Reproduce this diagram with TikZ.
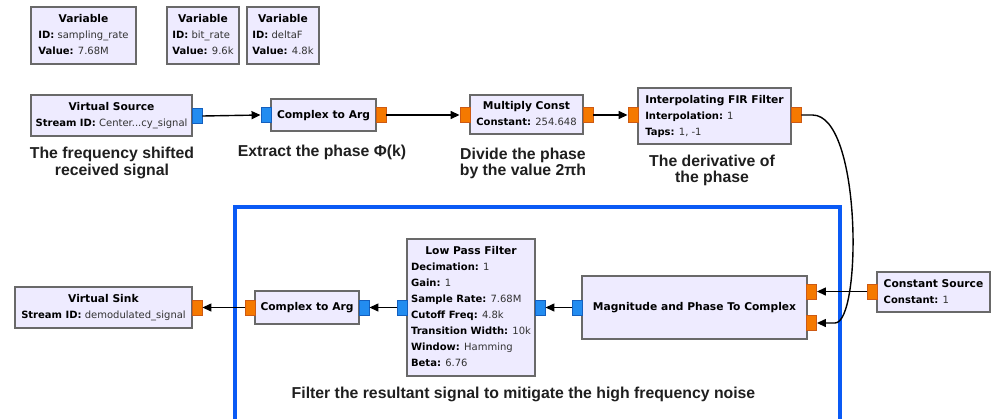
\documentclass[tikz,border=0pt]{standalone}
\usepackage{fontspec}
\setmainfont{DejaVu Sans}
\newfontfamily\notefont{Liberation Sans}
\usetikzlibrary{arrows.meta}

\definecolor{blkfill}{RGB}{238,235,255}
\definecolor{blkline}{RGB}{105,105,105}
\definecolor{portorange}{RGB}{245,121,0}
\definecolor{portorangeline}{RGB}{205,90,20}
\definecolor{portblue}{RGB}{34,140,240}
\definecolor{portblueline}{RGB}{20,95,190}
\definecolor{frameblue}{RGB}{10,90,245}
\definecolor{valgray}{RGB}{50,50,50}

% block title (centred, a touch larger) and parameter line (bold key, plain value)
\newcommand{\ttlsize}{\fontsize{10.7}{16}\selectfont}
\newcommand{\blkttl}[1]{\multicolumn{1}{@{}c@{}}{\ttlsize\textbf{#1}}}
\newcommand{\prm}[2]{\textbf{#1:} {\color{valgray}#2}}
\newenvironment{blktext}{\begin{tabular}{@{}l@{}}}{\end{tabular}}

\begin{document}
\begin{tikzpicture}[x=1pt,y=-1pt,
  blk/.style={draw=blkline, fill=blkfill, line width=1.3pt, inner sep=0pt,
              font=\fontsize{10}{16}\selectfont},
  port/.style={minimum width=10pt, minimum height=15pt, inner sep=0pt, line width=0.9pt},
  oport/.style={port, draw=portorangeline, fill=portorange},
  bport/.style={port, draw=portblueline, fill=portblue},
  wire/.style={line width=1.4pt, -{Triangle[length=9pt,width=8pt]}},
  note/.style={font=\notefont\bfseries\fontsize{15.8}{16.5}\selectfont, align=center, text=black!88}
]
\clip (0,0) rectangle (992,418);
\fill[white] (0,0) rectangle (992,418);

% grouping frame around the filtering stage
\draw[frameblue, line width=4pt] (235,425) -- (235,207) -- (840,207) -- (840,425);

% variables
\node[blk, minimum width=105, minimum height=57] (var1) at (83.5,35.5)
  {\begin{blktext}\blkttl{Variable}\\ \prm{ID}{sampling\_rate}\\ \prm{Value}{7.68M}\end{blktext}};
\node[blk, minimum width=72, minimum height=57] (var2) at (203,35.5)
  {\begin{blktext}\blkttl{Variable}\\ \prm{ID}{bit\_rate}\\ \prm{Value}{9.6k}\end{blktext}};
\node[blk, minimum width=72, minimum height=57] (var3) at (283,35.5)
  {\begin{blktext}\blkttl{Variable}\\ \prm{ID}{deltaF}\\ \prm{Value}{4.8k}\end{blktext}};

% top row of blocks
\node[blk, minimum width=161, minimum height=41] (vsrc) at (111.5,115.5)
  {\begin{blktext}\blkttl{Virtual Source}\\ \prm{Stream ID}{Center...cy\_signal}\end{blktext}};
\node[blk, minimum width=105, minimum height=32] (cta1) at (323.5,115)
  {\begin{blktext}\blkttl{Complex to Arg}\end{blktext}};
\node[blk, minimum width=113, minimum height=39] (mc) at (526.5,114.5)
  {\begin{blktext}\blkttl{Multiply Const}\\ \prm{Constant}{254.648}\end{blktext}};
\node[blk, minimum width=153, minimum height=56] (fir) at (714.5,116)
  {\begin{blktext}\blkttl{Interpolating FIR Filter}\\ \prm{Interpolation}{1}\\ \prm{Taps}{1, -1}\end{blktext}};

% bottom row of blocks
\node[blk, minimum width=113, minimum height=40] (csrc) at (933.5,292)
  {\begin{blktext}{\ttlsize\textbf{Constant Source}}\\ \prm{Constant}{1}\end{blktext}};
\node[blk, minimum width=225, minimum height=63] (mptc) at (694.5,307.5)
  {\begin{blktext}\blkttl{Magnitude and Phase To Complex}\end{blktext}};
\node[blk, minimum width=128, minimum height=137] (lpf) at (471,307.5)
  {\begin{blktext}\blkttl{Low Pass Filter}\\ \prm{Decimation}{1}\\ \prm{Gain}{1}\\
   \prm{Sample Rate}{7.68M}\\ \prm{Cutoff Freq}{4.8k}\\ \prm{Transition Width}{10k}\\
   \prm{Window}{Hamming}\\ \prm{Beta}{6.76}\end{blktext}};
\node[blk, minimum width=104, minimum height=33] (cta2) at (307,307.5)
  {\begin{blktext}\blkttl{Complex to Arg}\end{blktext}};
\node[blk, minimum width=177, minimum height=41] (vsink) at (103.5,307.5)
  {\begin{blktext}\blkttl{Virtual Sink}\\ \prm{Stream ID}{demodulated\_signal}\end{blktext}};

% ports
\node[bport] (vsrcout) at (197,116) {};
\node[bport] (cta1in) at (266,115) {};
\node[oport] (cta1out) at (381,115) {};
\node[oport] (mcin) at (465,115) {};
\node[oport] (mcout) at (588,115) {};
\node[oport] (firin) at (633,115) {};
\node[oport] (firout) at (796,115) {};
\node[oport] (csrcout) at (872,291.5) {};
\node[oport] (mptcin1) at (811.5,291.5) {};
\node[oport] (mptcin2) at (811.5,323) {};
\node[bport] (mptcout) at (577,307.5) {};
\node[bport] (lpfin) at (540,307.5) {};
\node[bport] (lpfout) at (402,307.5) {};
\node[bport] (cta2in) at (364,307.5) {};
\node[oport] (cta2out) at (250,307.5) {};
\node[oport] (vsinkin) at (197,307.5) {};

% connections
\draw[wire] (vsrcout.east) -- (cta1in.west);
\draw[wire] (cta1out.east) -- (mcin.west);
\draw[wire] (mcout.east) -- (firin.west);
\draw[wire] (firout.east) -- ++(11,0) .. controls (862,115) and (862,323) .. ([xshift=18pt]mptcin2.east) -- (mptcin2.east);
\draw[wire] (csrcout.west) -- (mptcin1.east);
\draw[wire] (mptcout.west) -- (lpfin.east);
\draw[wire] (lpfout.west) -- (cta2in.east);
\draw[wire] (cta2out.west) -- (vsinkin.east);

% annotations
\node[note] (n1) at (112,163) {The frequency shifted\\received signal};
\node[note] (n2) at (322,152) {Extract the phase Φ(k)};
\node[note] (n3) at (523,163.5) {Divide the phase\\by the value 2πh};
\node[note] (n4) at (712,170.5) {The derivative of\\the phase};
\node[note] (n5) at (523.5,394) {Filter the resultant signal to mitigate the high frequency noise};
\end{tikzpicture}
\end{document}
